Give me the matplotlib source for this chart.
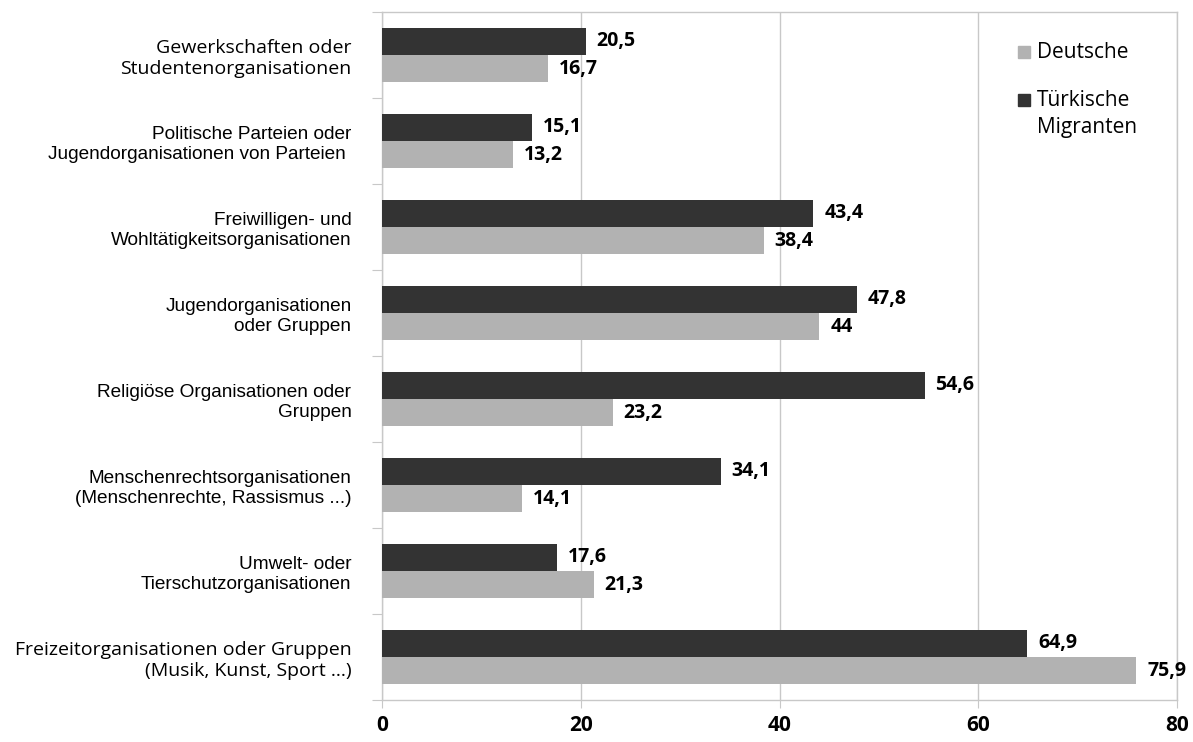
import matplotlib
matplotlib.use('Agg')
import matplotlib.pyplot as plt
from matplotlib.patches import Rectangle

# Engagement in Organisationen, Prozent
categories = [
    'Gewerkschaften oder\nStudentenorganisationen',
    'Politische Parteien oder\nJugendorganisationen von Parteien ',
    'Freiwilligen- und\nWohltätigkeitsorganisationen',
    'Jugendorganisationen\noder Gruppen',
    'Religiöse Organisationen oder\nGruppen',
    'Menschenrechtsorganisationen\n(Menschenrechte, Rassismus ...)',
    'Umwelt- oder\nTierschutzorganisationen',
    'Freizeitorganisationen oder Gruppen\n(Musik, Kunst, Sport ...)',
]
tuerkische = [20.5, 15.1, 43.4, 47.8, 54.6, 34.1, 17.6, 64.9]
deutsche = [16.7, 13.2, 38.4, 44.0, 23.2, 14.1, 21.3, 75.9]
series_names = ['Deutsche', 'Türkische\nMigranten']
xticks = [0, 20, 40, 60, 80]

# first and last labels are set in a different face
label_fonts = ['Open Sans', 'Liberation Sans', 'Liberation Sans', 'Liberation Sans',
               'Liberation Sans', 'Liberation Sans', 'Liberation Sans', 'Open Sans']
label_sizes = [14, 13.7, 13.7, 13.7, 13.7, 13.7, 13.7, 14]

DARK = '#333333'
LIGHT = '#b2b2b2'
GRID = '#c8c8c8'

fig = plt.figure(figsize=(11.93, 7.42), dpi=100)
ax = fig.add_axes([0.3202, 0.0566, 0.6664, 0.9272])

h = 0.315
ypos = list(range(len(categories)))
ax.barh([y - h / 2 for y in ypos], tuerkische, height=h, color=DARK, zorder=3)
ax.barh([y + h / 2 for y in ypos], deutsche, height=h, color=LIGHT, zorder=3)


def fmt(v):
    s = '{:.1f}'.format(v).replace('.', ',')
    return s[:-2] if s.endswith(',0') else s


for y, vt, vd in zip(ypos, tuerkische, deutsche):
    ax.text(vt + 1.1, y - h / 2, fmt(vt), va='center', ha='left',
            fontsize=14, fontweight='bold', family='Open Sans')
    ax.text(vd + 1.1, y + h / 2, fmt(vd), va='center', ha='left',
            fontsize=14, fontweight='bold', family='Open Sans')

ax.set_xlim(0, 80)
ax.set_ylim(len(categories) - 0.5, -0.5)
ax.set_xticks(xticks)
ax.set_xticklabels([str(t) for t in xticks], fontsize=15, fontweight='bold',
                   family='Open Sans')
ax.tick_params(axis='x', length=6, color=GRID, pad=4.5)
ax.xaxis.grid(True, color=GRID, lw=1, zorder=0)

# category boundaries as major ticks, names as minor ticks
ax.set_yticks([y - 0.5 for y in range(len(categories) + 1)])
ax.set_yticklabels([])
ax.tick_params(axis='y', which='major', length=7.5, color=GRID)
ax.set_yticks(ypos, minor=True)
ax.set_yticklabels(categories, minor=True, fontsize=14)
ax.tick_params(axis='y', which='minor', length=0, pad=22)
for lbl, fam, size in zip(ax.get_yticklabels(minor=True), label_fonts, label_sizes):
    lbl.set_family(fam)
    lbl.set_fontsize(size)
    lbl.set_ha('right')
    lbl.set_multialignment('right')

for side in ['left', 'right', 'top', 'bottom']:
    ax.spines[side].set_color(GRID)
    ax.spines[side].set_linewidth(1)

# legend: square swatch beside the first line of each entry
W, H = 1193.0, 742.0
for name, color, yc in zip(series_names, [LIGHT, DARK], [52, 100]):
    fig.patches.append(Rectangle((1018 / W, 1 - (yc + 6) / H), 12 / W, 12 / H,
                                 color=color, transform=fig.transFigure))
    for k, line in enumerate(name.split('\n')):
        fig.text(1037 / W, 1 - (yc + 27 * k) / H, line, va='center', ha='left',
                 fontsize=15, family='Open Sans')

fig.savefig('out.png', dpi=100)
